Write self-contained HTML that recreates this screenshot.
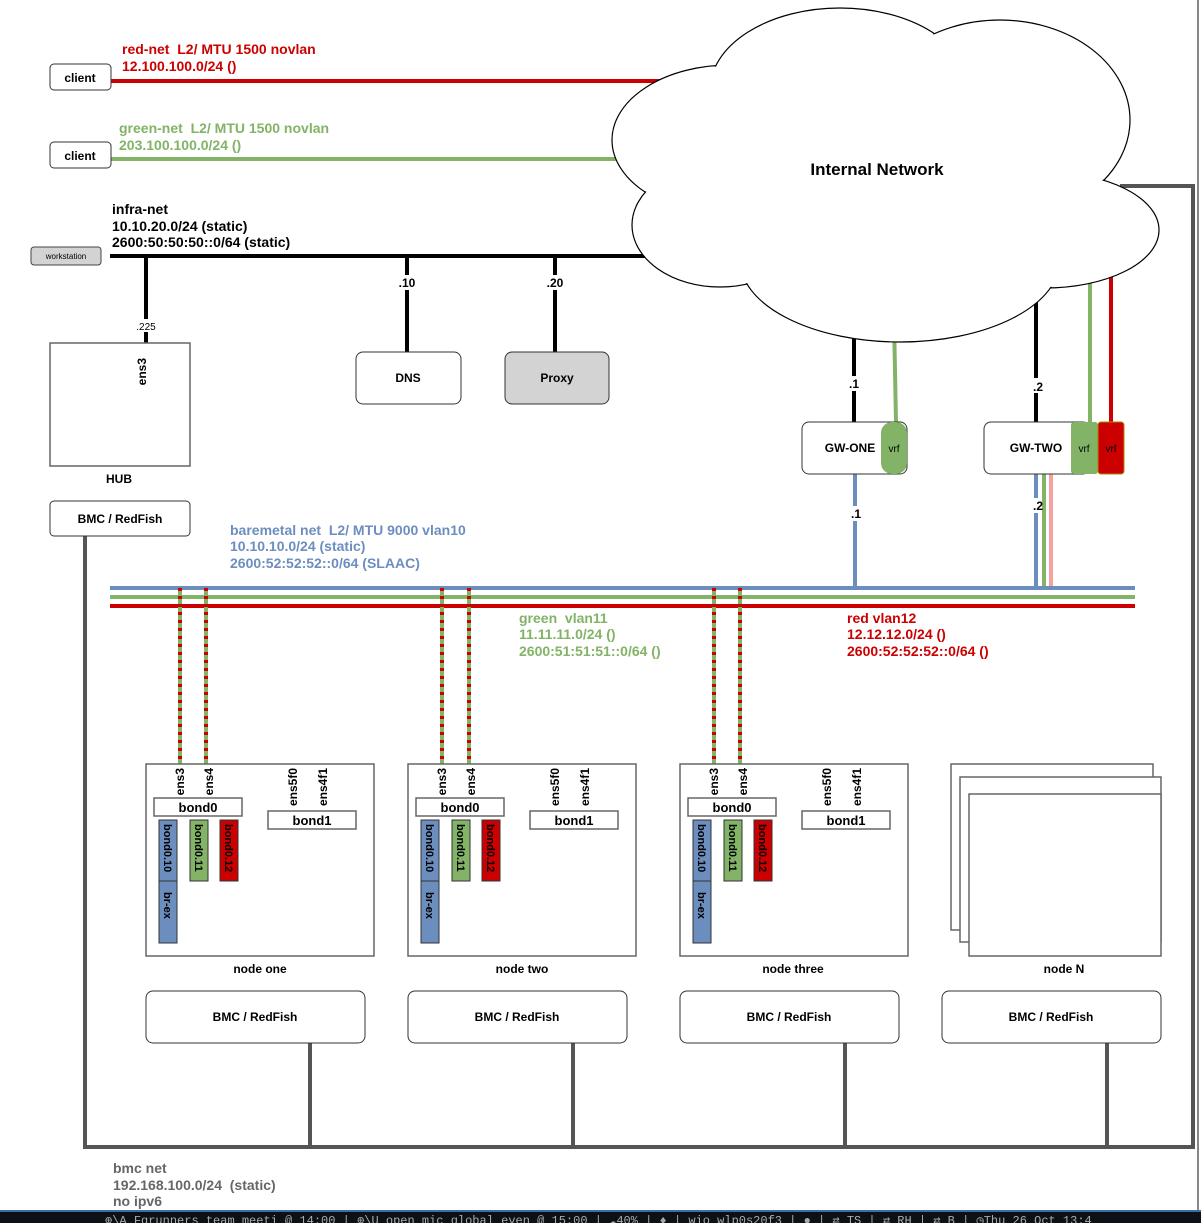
<!DOCTYPE html>
<html><head><meta charset="utf-8"><style>
html,body{margin:0;padding:0;background:#fff;}
svg{display:block;font-family:"Liberation Sans",sans-serif;}
text{white-space:pre;}
.b{font-weight:bold;}
</style></head><body>
<svg width="1201" height="1223" viewBox="0 0 1201 1223" xmlns="http://www.w3.org/2000/svg">
<defs>
<g id="node">
  <rect x="0" y="0" width="228" height="192" fill="#fff" stroke="#666" stroke-width="1.5"/>
  <text transform="translate(38,4) rotate(-90)" text-anchor="end" font-size="12" class="b">ens3</text>
  <text transform="translate(67,4) rotate(-90)" text-anchor="end" font-size="12" class="b">ens4</text>
  <text transform="translate(151,4) rotate(-90)" text-anchor="end" font-size="12" class="b">ens5f0</text>
  <text transform="translate(181,4) rotate(-90)" text-anchor="end" font-size="12" class="b">ens4f1</text>
  <rect x="8" y="34" width="88" height="18" fill="#fff" stroke="#666" stroke-width="1.5"/>
  <text x="52" y="48" text-anchor="middle" font-size="13" class="b">bond0</text>
  <rect x="122" y="47" width="88" height="18" fill="#fff" stroke="#666" stroke-width="1.5"/>
  <text x="166" y="61" text-anchor="middle" font-size="13" class="b">bond1</text>
  <rect x="13" y="56" width="18" height="61" fill="#6c8ebf" stroke="#333"/>
  <rect x="13" y="117" width="18" height="62" fill="#6c8ebf" stroke="#333"/>
  <rect x="44" y="56" width="18" height="61" fill="#82b366" stroke="#333"/>
  <rect x="74" y="56" width="18" height="61" fill="#cc0000" stroke="#333"/>
  <text transform="translate(18,60) rotate(90)" font-size="11" class="b">bond0.10</text>
  <text transform="translate(18,128) rotate(90)" font-size="11" class="b">br-ex</text>
  <text transform="translate(49,60) rotate(90)" font-size="11" class="b">bond0.11</text>
  <text transform="translate(79,60) rotate(90)" font-size="11" class="b">bond0.12</text>
</g>
<g id="dl">
  <line x1="0" y1="588" x2="0" y2="764" stroke="#82b366" stroke-width="4"/>
  <line x1="0" y1="588" x2="0" y2="764" stroke="#cc0000" stroke-width="4" stroke-dasharray="3,5"/>
</g>
</defs>

<line x1="1198" y1="0" x2="1198" y2="1210" stroke="#888" stroke-width="2"/>

<polyline points="85,536 85,1147 1193,1147 1193,186 1120,186" fill="none" stroke="#555" stroke-width="4"/>
<line x1="310" y1="1043" x2="310" y2="1147" stroke="#555" stroke-width="4"/>
<line x1="573" y1="1043" x2="573" y2="1147" stroke="#555" stroke-width="4"/>
<line x1="845" y1="1043" x2="845" y2="1147" stroke="#555" stroke-width="4"/>
<line x1="1107" y1="1043" x2="1107" y2="1147" stroke="#555" stroke-width="4"/>

<line x1="110" y1="81" x2="700" y2="81" stroke="#cc0000" stroke-width="4"/>
<line x1="110" y1="159" x2="660" y2="159" stroke="#82b366" stroke-width="4"/>
<line x1="110" y1="256" x2="660" y2="256" stroke="#000" stroke-width="4"/>
<line x1="146" y1="256" x2="146" y2="343" stroke="#000" stroke-width="4"/>
<line x1="407" y1="256" x2="407" y2="352" stroke="#000" stroke-width="4"/>
<line x1="555" y1="256" x2="555" y2="352" stroke="#000" stroke-width="4"/>
<rect x="132" y="319" width="28" height="13" fill="#fff"/>
<text x="146" y="330" text-anchor="middle" font-size="10">.225</text>
<rect x="395" y="275" width="24" height="15" fill="#fff"/>
<text x="407" y="287" text-anchor="middle" font-size="12" class="b">.10</text>
<rect x="543" y="275" width="24" height="15" fill="#fff"/>
<text x="555" y="287" text-anchor="middle" font-size="12" class="b">.20</text>

<line x1="854" y1="320" x2="854" y2="422" stroke="#000" stroke-width="4"/>
<line x1="894" y1="320" x2="896" y2="422" stroke="#82b366" stroke-width="4"/>
<line x1="1036" y1="290" x2="1036" y2="422" stroke="#000" stroke-width="4"/>
<line x1="1090" y1="270" x2="1090" y2="422" stroke="#82b366" stroke-width="4"/>
<line x1="1111" y1="265" x2="1111" y2="422" stroke="#cc0000" stroke-width="4"/>
<rect x="846" y="376" width="16" height="15" fill="#fff"/>
<text x="854" y="388" text-anchor="middle" font-size="12" class="b">.1</text>
<rect x="1028" y="378" width="16" height="15" fill="#fff"/>
<text x="1038" y="391" text-anchor="middle" font-size="12" class="b">.2</text>

<line x1="855" y1="474" x2="855" y2="588" stroke="#6c8ebf" stroke-width="4"/>
<line x1="1036" y1="474" x2="1036" y2="588" stroke="#6c8ebf" stroke-width="4"/>
<line x1="1044" y1="474" x2="1044" y2="588" stroke="#82b366" stroke-width="4"/>
<line x1="1051" y1="474" x2="1051" y2="588" stroke="#f8a0a0" stroke-width="4"/>
<rect x="847" y="506" width="16" height="15" fill="#fff"/>
<text x="856" y="518" text-anchor="middle" font-size="12" class="b">.1</text>
<rect x="1030" y="498" width="12" height="15" fill="#fff"/>
<text x="1038" y="510" text-anchor="middle" font-size="12" class="b">.2</text>

<g>
<g fill="#fff" stroke="#000" stroke-width="1.2">
  <ellipse cx="730" cy="140" rx="118" ry="75"/>
  <ellipse cx="840" cy="90" rx="130" ry="82"/>
  <ellipse cx="1000" cy="120" rx="130" ry="100"/>
  <ellipse cx="1045" cy="230" rx="114" ry="58"/>
  <ellipse cx="720" cy="225" rx="88" ry="62"/>
  <ellipse cx="900" cy="260" rx="160" ry="82"/>
</g>
<g fill="#fff">
  <ellipse cx="730" cy="140" rx="117" ry="74"/>
  <ellipse cx="840" cy="90" rx="129" ry="81"/>
  <ellipse cx="1000" cy="120" rx="129" ry="99"/>
  <ellipse cx="1045" cy="230" rx="113" ry="57"/>
  <ellipse cx="720" cy="225" rx="87" ry="61"/>
  <ellipse cx="900" cy="260" rx="159" ry="81"/>
  <ellipse cx="880" cy="175" rx="180" ry="90"/>
</g>
<text x="877" y="175" text-anchor="middle" font-size="17" class="b">Internal Network</text>
</g>

<line x1="110" y1="588" x2="1135" y2="588" stroke="#6c8ebf" stroke-width="4"/>
<line x1="110" y1="597" x2="1135" y2="597" stroke="#82b366" stroke-width="4"/>
<line x1="110" y1="606" x2="1135" y2="606" stroke="#cc0000" stroke-width="4"/>

<use href="#dl" x="180"/><use href="#dl" x="206"/>
<use href="#dl" x="442"/><use href="#dl" x="469"/>
<use href="#dl" x="714"/><use href="#dl" x="740"/>

<g font-size="14" class="b">
<text x="122" y="54" fill="#cc0000">red-net  L2/ MTU 1500 novlan</text>
<text x="122" y="71" fill="#cc0000">12.100.100.0/24 ()</text>
<text x="119" y="133" fill="#82b366">green-net  L2/ MTU 1500 novlan</text>
<text x="119" y="150" fill="#82b366">203.100.100.0/24 ()</text>
<text x="112" y="214">infra-net</text>
<text x="112" y="231">10.10.20.0/24 (static)</text>
<text x="112" y="247">2600:50:50:50::0/64 (static)</text>
<text x="230" y="535" fill="#6c8ebf">baremetal net  L2/ MTU 9000 vlan10</text>
<text x="230" y="551" fill="#6c8ebf">10.10.10.0/24 (static)</text>
<text x="230" y="568" fill="#6c8ebf">2600:52:52:52::0/64 (SLAAC)</text>
<text x="519" y="623" fill="#82b366">green  vlan11</text>
<text x="519" y="639" fill="#82b366">11.11.11.0/24 ()</text>
<text x="519" y="656" fill="#82b366">2600:51:51:51::0/64 ()</text>
<text x="847" y="623" fill="#cc0000">red vlan12</text>
<text x="847" y="639" fill="#cc0000">12.12.12.0/24 ()</text>
<text x="847" y="656" fill="#cc0000">2600:52:52:52::0/64 ()</text>
<text x="113" y="1173" fill="#666">bmc net</text>
<text x="113" y="1190" fill="#666">192.168.100.0/24  (static)</text>
<text x="113" y="1206" fill="#666">no ipv6</text>
</g>

<rect x="50" y="64" width="61" height="26" rx="4" fill="#fff" stroke="#333"/>
<text x="80" y="82" text-anchor="middle" font-size="12" class="b">client</text>
<rect x="50" y="142" width="61" height="26" rx="4" fill="#fff" stroke="#333"/>
<text x="80" y="160" text-anchor="middle" font-size="12" class="b">client</text>
<rect x="31" y="247" width="70" height="18" rx="3" fill="#d3d3d3" stroke="#444"/>
<text x="66" y="259" text-anchor="middle" font-size="8">workstation</text>

<rect x="50" y="343" width="140" height="123" fill="#fff" stroke="#666" stroke-width="1.5"/>
<text transform="translate(146,358) rotate(-90)" text-anchor="end" font-size="12" class="b">ens3</text>
<text x="119" y="483" text-anchor="middle" font-size="12" class="b">HUB</text>
<rect x="50" y="501" width="140" height="35" rx="4" fill="#fff" stroke="#333"/>
<text x="120" y="523" text-anchor="middle" font-size="12" class="b">BMC / RedFish</text>

<rect x="356" y="352" width="105" height="52" rx="7" fill="#fff" stroke="#333"/>
<text x="408" y="382" text-anchor="middle" font-size="12" class="b">DNS</text>
<rect x="505" y="352" width="104" height="52" rx="7" fill="#d3d3d3" stroke="#333"/>
<text x="557" y="382" text-anchor="middle" font-size="12" class="b">Proxy</text>

<rect x="802" y="422" width="105" height="52" rx="7" fill="#fff" stroke="#333"/>
<text x="850" y="452" text-anchor="middle" font-size="12" class="b">GW-ONE</text>
<rect x="881" y="422" width="26" height="52" rx="11" fill="#82b366"/>
<text x="894" y="452" text-anchor="middle" font-size="10">vrf</text>
<rect x="984" y="422" width="106" height="52" rx="7" fill="#fff" stroke="#333"/>
<text x="1036" y="452" text-anchor="middle" font-size="12" class="b">GW-TWO</text>
<rect x="1071" y="422" width="27" height="52" rx="3" fill="#82b366"/>
<text x="1084" y="452" text-anchor="middle" font-size="10">vrf</text>
<rect x="1098" y="422" width="26" height="52" rx="3" fill="#cc0000" stroke="#a80"/>
<text x="1111" y="452" text-anchor="middle" font-size="10">vrf</text>

<use href="#node" x="146" y="764"/>
<use href="#node" x="408" y="764"/>
<use href="#node" x="680" y="764"/>
<rect x="951" y="764" width="202" height="166" fill="#fff" stroke="#666" stroke-width="1.5"/>
<rect x="960" y="777" width="201" height="165" fill="#fff" stroke="#666" stroke-width="1.5"/>
<rect x="969" y="794" width="192" height="162" fill="#fff" stroke="#666" stroke-width="1.5"/>
<g font-size="12" class="b" text-anchor="middle">
<text x="260" y="973">node one</text>
<text x="522" y="973">node two</text>
<text x="793" y="973">node three</text>
<text x="1064" y="973">node N</text>
</g>
<g>
<rect x="146" y="991" width="219" height="52" rx="7" fill="#fff" stroke="#333"/>
<rect x="408" y="991" width="219" height="52" rx="7" fill="#fff" stroke="#333"/>
<rect x="680" y="991" width="219" height="52" rx="7" fill="#fff" stroke="#333"/>
<rect x="942" y="991" width="219" height="52" rx="7" fill="#fff" stroke="#333"/>
<g font-size="12" class="b" text-anchor="middle">
<text x="255" y="1021">BMC / RedFish</text>
<text x="517" y="1021">BMC / RedFish</text>
<text x="789" y="1021">BMC / RedFish</text>
<text x="1051" y="1021">BMC / RedFish</text>
</g>
</g>

<rect x="0" y="1210" width="1201" height="13" fill="#0d1117"/>
<rect x="0" y="1210" width="1201" height="2" fill="#3a6ea5"/>
<text x="105" y="1224" font-family="Liberation Mono,monospace" font-size="12" fill="#aaa">⊕\A Fgrunners team meeti @ 14:00 | ⊕\U open mic global even @ 15:00 | ☁40% | ♦ | wio wlp0s20f3 | ● | ⇄ TS | ⇄ RH | ⇄ B | ◷Thu 26 Oct 13:4</text>
</svg>
</body></html>
